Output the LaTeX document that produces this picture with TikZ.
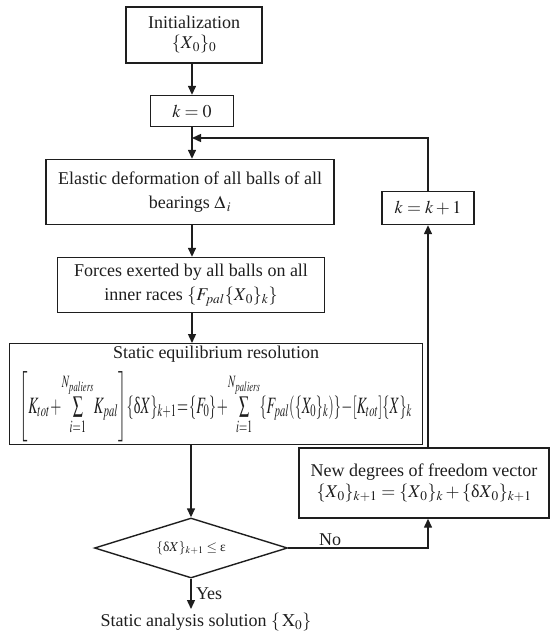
\documentclass[tikz,border=0pt]{standalone}
\usepackage{amsmath}
\usepackage{mathptmx}
\usepackage[no-math]{fontspec}
\setmainfont{Liberation Serif}
\usetikzlibrary{positioning,shapes.geometric,arrows.meta}
\definecolor{sline}{HTML}{1E1E1E}

\begin{document}
\begin{tikzpicture}[x=1pt, y=-1pt, color=sline, line width=1.4pt,
    font=\fontsize{18}{24}\selectfont, node distance=2pt,
    fcbox/.style={rectangle,draw,align=center,inner sep=2pt},
    fcdec/.style={diamond,draw,aspect=3.2,inner sep=0pt},
    fcarrow/.style={-{Triangle[length=9pt,width=8pt]}}]
    \useasboundingbox (0,0) rectangle (551,640);

    \node[fcbox, minimum width=136pt, minimum height=56pt] (init) at (194,35)
        {Initialization\\[-4pt] $\{X_{\,0}\}_0$};
    \node[fcbox, minimum width=83pt, minimum height=31pt] (kzero) at (192,111) {$k=0$};
    \node[fcbox, minimum width=288pt, minimum height=65pt] (elastic) at (190,192)
        {Elastic deformation of all balls of all\\ bearings $\Delta_{\,i}$};
    \node[fcbox, minimum width=267pt, minimum height=55pt] (forces) at (191,285)
        {Forces exerted by all balls on all\\ inner races $\{F_{pal}\{X_{\,0}\}_k\}$};
    \node[fcbox, minimum width=413pt, minimum height=97pt] (static) at (216,394)
        {Static equilibrium resolution\\[9pt]
        \resizebox{392pt}{41pt}{\thinmuskip=1mu\medmuskip=0.5mu\thickmuskip=1mu%
        $\left[K_{tot}+\sum\limits_{i=1}^{N_{paliers}}\!K_{pal}\right]\!\{\mbox{δ}X\}_{k+1}
        =\{F_0\}+\sum\limits_{i=1}^{N_{paliers}}\!\{F_{pal}(\{X_0\}_k)\}-[K_{tot}]\{X\}_k$}};
    \node[fcbox, minimum width=92pt, minimum height=33pt] (kinc) at (428,208) {$k=k+1$};
    \node[fcbox, minimum width=250pt, minimum height=70pt] (newdof) at (424,483)
        {New degrees of freedom vector\\[-3pt]
        $\{X_{\,0}\}_{k+1}=\{X_{\,0}\}_k+\{\mbox{δ}X_{\,0}\}_{k+1}$};
    \node[fcdec, minimum width=193pt, minimum height=60pt, font=\fontsize{13.5}{16}\selectfont] (conv) at (191,548)
        {$\{\mbox{δ}X\}_{k+1}\leq\mbox{ε}$};
    \node[anchor=north] (result) at (206,609) {Static analysis solution $\{\,\mathrm{X}_0\}$};

    \coordinate (loop) at (192,138);

    \draw[fcarrow] (init.south -| kzero) -- (kzero);
    \draw[fcarrow] (kzero) -- (elastic.north -| kzero);
    \draw[fcarrow] (elastic.south -| kzero) -- (forces.north -| kzero);
    \draw[fcarrow] (forces.south -| kzero) -- (static.north -| kzero);
    \draw[fcarrow] (static.south -| conv) -- (conv.north);
    \draw[fcarrow] (conv.south) -- node[right=1pt] {Yes} (conv.south |- result.north);
    \draw[fcarrow] (conv.east) -- node[above=-2pt, pos=0.3] {No} (conv.east -| kinc) -- (newdof.south -| kinc);
    \draw[fcarrow] (newdof.north -| kinc) -- (kinc.south);
    \draw[fcarrow] (kinc.north) |- (loop);
\end{tikzpicture}
\end{document}
